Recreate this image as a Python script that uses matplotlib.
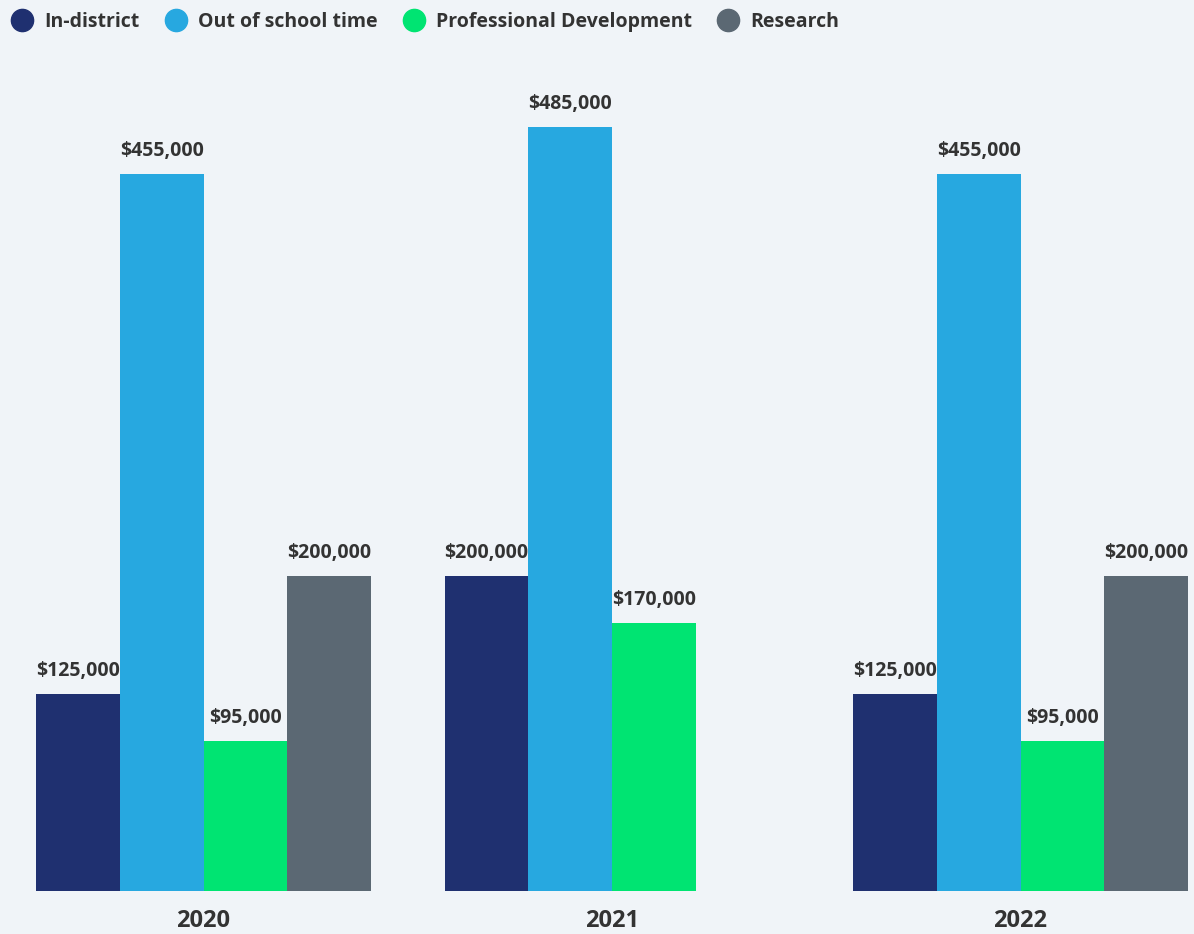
import numpy as np
import matplotlib
matplotlib.use("Agg")
import matplotlib.pyplot as plt
from matplotlib.lines import Line2D

# -------------------------- data --------------------------
years = ["2020", "2021", "2022"]
series = ["In-district", "Out of school time", "Professional Development", "Research"]
in_district = [125000, 200000, 125000]
out_of_school = [455000, 485000, 455000]
prof_dev = [95000, 170000, 95000]
research = [200000, 0, 200000]

colors = ["#1f3070", "#27a8e0", "#00e472", "#5b6873"]
bg = "#f0f4f8"
text_color = "#333333"

plt.rcParams["font.family"] = ["Open Sans", "DejaVu Sans"]

fig = plt.figure(figsize=(11.94, 9.34), dpi=100, facecolor=bg)
ax = fig.add_axes([0, 43 / 934, 1, 831 / 934])
ax.set_facecolor(bg)

x = np.arange(len(years))
width = 0.205
values = [in_district, out_of_school, prof_dev, research]
for i, (vals, col) in enumerate(zip(values, colors)):
    pos = x + (i - 1.5) * width
    ax.bar(pos, vals, width=width, color=col, linewidth=0)
    for xb, v in zip(pos, vals):
        if v > 0:
            ax.annotate(f"${v:,.0f}", (xb, v), xytext=(0, 13), textcoords="offset points",
                        ha="center", va="baseline", fontsize=14, fontweight="bold",
                        color=text_color)

ax.set_xlim(-203.5 / 408.5, (1194 - 203.5) / 408.5)
ax.set_ylim(0, 527400)
ax.set_xticks(x)
ax.set_xticklabels(years, fontsize=17, fontweight="bold", color=text_color)
ax.tick_params(axis="x", length=0, pad=13)
ax.set_yticks([])
for s in ax.spines.values():
    s.set_visible(False)

handles = [Line2D([0], [0], marker="o", linestyle="", markersize=16,
                  markerfacecolor=c, markeredgecolor=c) for c in colors]
leg = fig.legend(handles, series, loc="upper left", bbox_to_anchor=(0.0, 1.0), ncol=4,
                 frameon=False, handletextpad=0.6, columnspacing=1.3, handlelength=1.1,
                 prop={"size": 14, "weight": "bold"}, borderaxespad=0.2)
for t in leg.get_texts():
    t.set_color(text_color)

fig.savefig("out.png", dpi=100, facecolor=bg)
